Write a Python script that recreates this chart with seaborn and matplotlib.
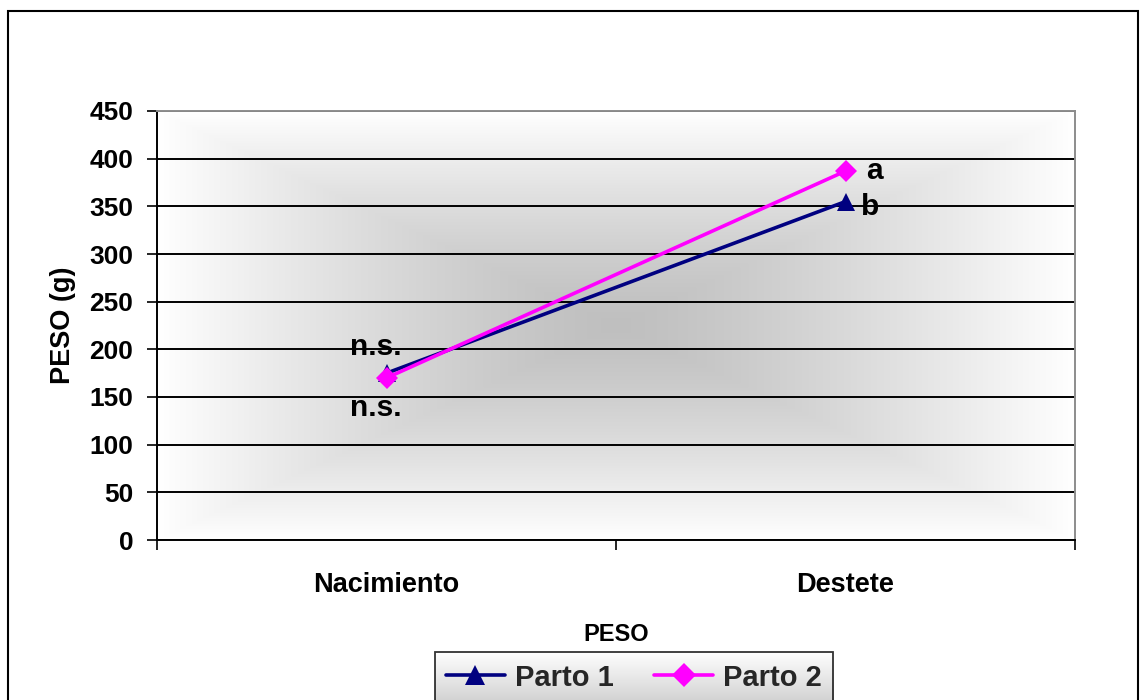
import numpy as np
import pandas as pd
import matplotlib
matplotlib.use("Agg")
import matplotlib.pyplot as plt
from matplotlib.patches import Rectangle
import seaborn as sns

# Weights (g) at birth and weaning for each parity
etapas = ["Nacimiento", "Destete"]
parto1 = [175, 355]
parto2 = [170, 387]
series = ["Parto 1", "Parto 2"]
y_ticks = [0, 50, 100, 150, 200, 250, 300, 350, 400, 450]

df = pd.DataFrame({
    "etapa": etapas * 2,
    "peso": parto1 + parto2,
    "parto": [series[0]] * 2 + [series[1]] * 2,
})

sns.set_theme(style="white")
plt.rcParams["font.family"] = ["Liberation Sans", "DejaVu Sans"]
plt.rcParams["font.weight"] = "bold"

W, H = 1143, 700
fig = plt.figure(figsize=(W / 100, H / 100), dpi=100)
fig.patch.set_facecolor("white")
ax = fig.add_axes([157 / W, (H - 540) / H, (1075 - 157) / W, (540 - 111) / H])

# Rectangular "from centre" gradient for the plot area
n = 400
u = np.linspace(-1, 1, n)
U, V = np.meshgrid(u, u)
d = np.maximum(np.abs(U), np.abs(V))
center, edge = 0.75, 1.0
g = center + (edge - center) * d ** 1.3
bg = np.dstack([g, g, g])
ax.imshow(bg, extent=[-0.5, 1.5, 0, 450], aspect="auto", zorder=0,
          interpolation="bilinear")

palette = {"Parto 1": "#000080", "Parto 2": "#FF00FF"}
markers = {"Parto 1": "^", "Parto 2": "D"}
sns.lineplot(data=df, x="etapa", y="peso", hue="parto", style="parto",
             palette=palette, markers=markers, dashes=False, linewidth=2.6,
             markersize=11, markeredgewidth=0, ax=ax, sort=False, zorder=3)

# Triangle glyphs read smaller than diamonds at equal size
marker_sizes = {"^": 13, "D": 11}
for line in ax.lines:
    m = line.get_marker()
    if m in marker_sizes:
        line.set_markersize(marker_sizes[m])

ax.set_xlim(-0.5, 1.5)
ax.set_ylim(0, 450)
ax.set_yticks(y_ticks)
ax.set_yticklabels([str(v) for v in y_ticks])
ax.yaxis.grid(True, color="black", linewidth=1.4, zorder=1)
ax.xaxis.grid(False)
ax.set_axisbelow(True)

ax.set_xticks([0, 1])
ax.set_xticklabels(etapas)
ax.set_xticks([-0.5, 0.5, 1.5], minor=True)
ax.tick_params(axis="x", which="major", length=0, pad=23, labelsize=19.5)
ax.tick_params(axis="x", which="minor", length=7, width=1.2, color="black",
               direction="out", bottom=True)
ax.tick_params(axis="y", length=7, width=1.2, color="black", direction="out",
               left=True, pad=10, labelsize=19)
for lab in ax.get_xticklabels() + ax.get_yticklabels():
    lab.set_fontweight("bold")
    lab.set_color("black")

for side in ["left", "bottom"]:
    ax.spines[side].set_color("black")
    ax.spines[side].set_linewidth(1.4)
for side in ["top", "right"]:
    ax.spines[side].set_color("#8c8c8c")
    ax.spines[side].set_linewidth(1.4)

ax.set_xlabel("PESO", fontsize=17, fontweight="bold", labelpad=18, color="black")
ax.set_ylabel("PESO (g)", fontsize=19.5, fontweight="bold", labelpad=10, color="black")

# Significance letters
txt = dict(fontsize=21.5, fontweight="bold", color="black", ha="center", va="center")
ax.annotate("n.s.", xy=(0, parto1[0]), xytext=(-8, 19), textcoords="offset points", **txt)
ax.annotate("n.s.", xy=(0, parto2[0]), xytext=(-8, -22), textcoords="offset points", **txt)
ax.annotate("a", xy=(1, parto2[1]), xytext=(21, 0), textcoords="offset points", **txt)
ax.annotate("b", xy=(1, parto1[1]), xytext=(18, -4), textcoords="offset points", **txt)

handles, labels = ax.get_legend_handles_labels()
ax.get_legend().remove()
for h in handles:
    h.set_linewidth(2.6)
    h.set_markersize(marker_sizes.get(h.get_marker(), 12) + 1)
leg = fig.legend(handles, labels, loc="upper center",
                 bbox_to_anchor=(634 / W, (H - 652) / H), ncol=2, frameon=True,
                 prop={"weight": "bold", "size": 21},
                 handlelength=2.0, columnspacing=1.4, handletextpad=0.35,
                 borderpad=0.4, borderaxespad=0, fancybox=False)
leg.get_frame().set_edgecolor("black")
leg.get_frame().set_linewidth(1.3)
leg.get_frame().set_facecolor("none")
leg.set_zorder(5)

# Vertical white-to-grey fill behind the legend
fig.canvas.draw()
bb = leg.get_window_extent().transformed(fig.transFigure.inverted())
lax = fig.add_axes([bb.x0, bb.y0, bb.width, bb.height], zorder=-1)
grad = np.linspace(1.0, 0.82, 100)[:, None]
lax.imshow(np.dstack([grad, grad, grad]), aspect="auto", extent=[0, 1, 0, 1])
lax.axis("off")

# Outer chart border
fig.add_artist(Rectangle((8 / W, -0.02), (1138 - 8) / W, (H - 11) / H + 0.02,
                         transform=fig.transFigure, fill=False,
                         edgecolor="black", linewidth=1.5))

fig.savefig("out.png", dpi=100)
